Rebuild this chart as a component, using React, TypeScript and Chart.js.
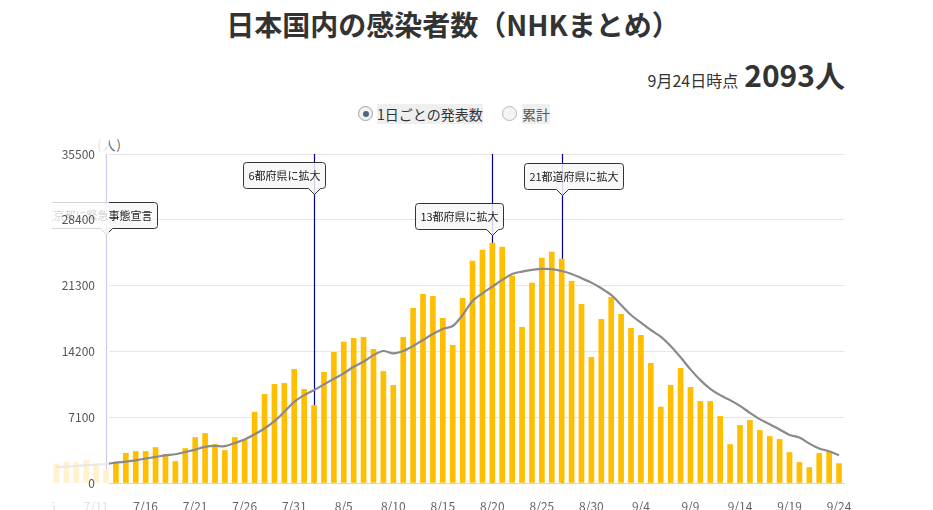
import React, { useEffect, useRef } from 'react';
import { Chart, registerables } from 'chart.js';

Chart.register(...registerables);

// ---- data ----
const dates = [
  '7/7', '7/8', '7/9', '7/10', '7/11', '7/12', '7/13', '7/14', '7/15', '7/16',
  '7/17', '7/18', '7/19', '7/20', '7/21', '7/22', '7/23', '7/24', '7/25', '7/26',
  '7/27', '7/28', '7/29', '7/30', '7/31', '8/1', '8/2', '8/3', '8/4', '8/5',
  '8/6', '8/7', '8/8', '8/9', '8/10', '8/11', '8/12', '8/13', '8/14', '8/15',
  '8/16', '8/17', '8/18', '8/19', '8/20', '8/21', '8/22', '8/23', '8/24', '8/25',
  '8/26', '8/27', '8/28', '8/29', '8/30', '8/31', '9/1', '9/2', '9/3', '9/4',
  '9/5', '9/6', '9/7', '9/8', '9/9', '9/10', '9/11', '9/12', '9/13', '9/14',
  '9/15', '9/16', '9/17', '9/18', '9/19', '9/20', '9/21', '9/22', '9/23', '9/24',
];

const dailyCases = [
  2070, 2240, 2240, 2460, 2070, 1450, 2240, 3210, 3400, 3400,
  3830, 3040, 2320, 3720, 4910, 5350, 4150, 3510, 4910, 4590,
  7650, 9560, 10640, 10750, 12260, 10100, 8370, 11940, 14100, 15210,
  15610, 15720, 14420, 12040, 10530, 15720, 18860, 20370, 20150, 17780,
  14860, 19930, 23940, 25130, 25890, 25460, 22320, 16810, 21560, 24260,
  24910, 24150, 21770, 19280, 13560, 17660, 20040, 18210, 16700, 15940,
  12910, 8190, 10530, 12370, 10320, 8800, 8800, 7180, 4155, 6210,
  6750, 5670, 5020, 4700, 3290, 2210, 1670, 3180, 3400, 2093,
];

const movingAverage = [
  1700, 1770, 1840, 1910, 1970, 2050, 2200, 2310, 2450, 2640,
  2810, 3000, 3100, 3350, 3600, 3890, 4000, 3970, 4320, 4690,
  5260, 5880, 6670, 7680, 8760, 9480, 10020, 10640, 11240, 11830,
  12540, 13080, 13800, 14240, 13990, 14240, 14780, 15430, 16080, 16620,
  16940, 18130, 19640, 20470, 21190, 21910, 22560, 22810, 22990, 23100,
  23070, 22880, 22560, 22090, 21620, 21010, 20290, 19210, 18130, 17300,
  16510, 15790, 14780, 13560, 12260, 11100, 10160, 9480, 8940, 8320,
  7570, 6890, 6350, 5770, 5190, 4910, 4260, 3720, 3430, 2990,
];

const xTickLabels = [
  '7/6', '7/11', '7/16', '7/21', '7/26', '7/31', '8/5', '8/10', '8/15',
  '8/20', '8/25', '8/30', '9/4', '9/9', '9/14', '9/19', '9/24',
];
const yMax = 35500;
const yStep = 7100;

const eventDates = ['7/12', '8/2', '8/20', '8/27'];
const eventTexts = ['東京都に緊急事態宣言', '6都府県に拡大', '13都府県に拡大', '21都道府県に拡大'];

const latestLabel = '9月24日時点';
const latestValue = '2093人';

// ---- layout (not data) ----
const TICK_EVERY = 5;
const VIEW_MIN = 6.3;
const VIEW_MAX = 80.5;
const calloutRightOffset = [51, 11, 11, 61];
const calloutTopOffset = [48, 8, 49, 9];
const FONT = '"Noto Sans CJK JP", "Noto Sans", sans-serif';

const dayPos = (i: number) => i + 1; // dates[0] is one day after the first tick label

const annotationPlugin = {
  id: 'eventsAndFade',
  beforeDatasetsDraw(chart: any) {
    const { ctx, chartArea, scales } = chart;
    const xs = scales.x;
    ctx.save();
    eventDates.forEach((d) => {
      const idx = dates.indexOf(d);
      const x = Math.round(xs.getPixelForValue(dayPos(idx))) + 0.5;
      ctx.beginPath();
      ctx.strokeStyle = '#00008b';
      ctx.lineWidth = 1.2;
      ctx.moveTo(x, chartArea.top);
      ctx.lineTo(x, chartArea.bottom);
      ctx.stroke();
    });
    ctx.font = `11px ${FONT}`;
    eventDates.forEach((d, k) => {
      const idx = dates.indexOf(d);
      const lx = Math.round(xs.getPixelForValue(dayPos(idx))) + 0.5;
      const text = eventTexts[k];
      const w = Math.round(ctx.measureText(text).width) + 10;
      const h = 26;
      const right = lx + calloutRightOffset[k];
      const left = right - w;
      const top = chartArea.top + calloutTopOffset[k] + 0.5;
      const bottom = top + h;
      const r = 3;
      const pw = 6;
      const ph = 6;
      ctx.beginPath();
      ctx.moveTo(left + r, top);
      ctx.lineTo(right - r, top);
      ctx.arcTo(right, top, right, top + r, r);
      ctx.lineTo(right, bottom - r);
      ctx.arcTo(right, bottom, right - r, bottom, r);
      ctx.lineTo(lx + pw, bottom);
      ctx.lineTo(lx, bottom + ph);
      ctx.lineTo(lx - pw, bottom);
      ctx.lineTo(left + r, bottom);
      ctx.arcTo(left, bottom, left, bottom - r, r);
      ctx.lineTo(left, top + r);
      ctx.arcTo(left, top, left + r, top, r);
      ctx.closePath();
      ctx.fillStyle = 'rgba(247,247,247,0.85)';
      ctx.fill();
      ctx.strokeStyle = '#333333';
      ctx.lineWidth = 1;
      ctx.stroke();
      ctx.fillStyle = '#222222';
      ctx.textAlign = 'center';
      ctx.textBaseline = 'middle';
      ctx.fillText(text, (left + right) / 2, top + h / 2 + 0.5);
    });
    ctx.restore();
  },
  afterDatasetsDraw(chart: any) {
    const { ctx, chartArea } = chart;
    ctx.save();
    ctx.fillStyle = 'rgba(255,255,255,0.8)';
    ctx.fillRect(0, 0, chartArea.left, chart.height);
    ctx.restore();
  },
};

function InfectionChart() {
  const ref = useRef<HTMLCanvasElement | null>(null);
  useEffect(() => {
    if (!ref.current) return;
    Chart.defaults.font.family = FONT;
    const chart = new Chart(ref.current, {
      type: 'bar',
      data: {
        datasets: [
          {
            type: 'line',
            label: '7日間平均',
            data: movingAverage.map((v, i) => ({ x: dayPos(i), y: v })),
            borderColor: '#8a8a8a',
            borderWidth: 2.2,
            pointRadius: 0,
            tension: 0.3,
            fill: false,
            clip: false,
            order: 0,
          } as any,
          {
            type: 'bar',
            label: '発表数',
            data: dailyCases.map((v, i) => ({ x: dayPos(i), y: v })),
            backgroundColor: '#ffbe00',
            barThickness: 5,
            clip: false,
            order: 1,
          } as any,
        ],
      },
      options: {
        animation: false,
        responsive: true,
        maintainAspectRatio: false,
        layout: { padding: { left: 0, right: 48, top: 24, bottom: 0 }, autoPadding: false },
        plugins: { legend: { display: false }, tooltip: { enabled: false } },
        events: [],
        scales: {
          x: {
            type: 'linear',
            position: 'bottom',
            offset: false,
            bounds: 'data',
            grid: { display: false, offset: false },
            border: { display: true, color: '#ccd6eb', width: 1 },
            afterDataLimits: (s: any) => {
              s.min = VIEW_MIN;
              s.max = VIEW_MAX;
            },
            afterBuildTicks: (s: any) => {
              s.ticks = xTickLabels.map((_, i) => ({ value: i * TICK_EVERY }));
            },
            afterFit: (s: any) => {
              s.height = 27;
              s.paddingLeft = 0;
              s.paddingRight = 0;
            },
            ticks: {
              autoSkip: false,
              maxRotation: 0,
              minRotation: 0,
              padding: 8,
              color: '#666666',
              font: { size: 12 },
              callback: (_v: any, i: number) => xTickLabels[i],
            },
          } as any,
          y: {
            type: 'linear',
            position: 'left',
            min: 0,
            max: yMax,
            grid: { color: '#e6e6e6', drawTicks: false, lineWidth: 1, z: -1 },
            border: { display: false },
            afterFit: (s: any) => {
              s.width = 57;
            },
            ticks: {
              z: 1,
              stepSize: yStep,
              padding: 14,
              color: '#555555',
              font: { size: 12 },
              callback: (v: any) => String(v),
            },
          } as any,
        },
      },
      plugins: [annotationPlugin],
    });
    return () => chart.destroy();
  }, []);
  return (
    <div style={{ position: 'absolute', left: 52, top: 130, width: 840, height: 380 }}>
      <canvas ref={ref} />
    </div>
  );
}

export default function App() {
  return (
    <div
      style={{
        position: 'absolute',
        left: 0,
        top: 0,
        width: 933,
        height: 510,
        overflow: 'hidden',
        background: '#ffffff',
        fontFamily: FONT,
        color: '#333333',
      }}
    >
      <div
        style={{
          position: 'absolute',
          left: 6,
          top: 5,
          width: 894,
          textAlign: 'center',
          fontSize: 28,
          fontWeight: 'bold',
          lineHeight: '38px',
          color: '#333333',
          whiteSpace: 'nowrap',
        }}
      >
        日本国内の感染者数（NHKまとめ）
      </div>
      <div
        style={{
          position: 'absolute',
          left: 0,
          top: 56,
          width: 845,
          textAlign: 'right',
          lineHeight: '36px',
          whiteSpace: 'nowrap',
        }}
      >
        <span style={{ fontSize: 16, color: '#333333' }}>{latestLabel}</span>
        <span style={{ fontSize: 30, fontWeight: 'bold', color: '#333333', marginLeft: 6 }}>{latestValue}</span>
      </div>
      <div
        style={{
          position: 'absolute',
          left: 358,
          top: 106,
          width: 13,
          height: 13,
          borderRadius: '50%',
          border: '1px solid #a0a0a0',
          background: '#f2f2f2',
        }}
      >
        <div
          style={{
            position: 'absolute',
            left: 3.5,
            top: 3.5,
            width: 6,
            height: 6,
            borderRadius: '50%',
            background: '#4d6580',
          }}
        />
      </div>
      <div
        style={{
          position: 'absolute',
          left: 377,
          top: 104,
          fontSize: 14,
          lineHeight: '20px',
          background: '#efefef',
          color: '#333333',
          whiteSpace: 'nowrap',
        }}
      >
        1日ごとの発表数
      </div>
      <div
        style={{
          position: 'absolute',
          left: 502,
          top: 106,
          width: 13,
          height: 13,
          borderRadius: '50%',
          border: '1px solid #b8b8b8',
          background: '#f4f4f4',
        }}
      />
      <div
        style={{
          position: 'absolute',
          left: 522,
          top: 104,
          fontSize: 14,
          lineHeight: '20px',
          background: '#efefef',
          color: '#555555',
          whiteSpace: 'nowrap',
        }}
      >
        累計
      </div>
      <div
        style={{
          position: 'absolute',
          left: 97,
          top: 135,
          fontSize: 13,
          letterSpacing: 1,
          color: '#666666',
          whiteSpace: 'nowrap',
        }}
      >
        (人)
      </div>
      <InfectionChart />
    </div>
  );
}
